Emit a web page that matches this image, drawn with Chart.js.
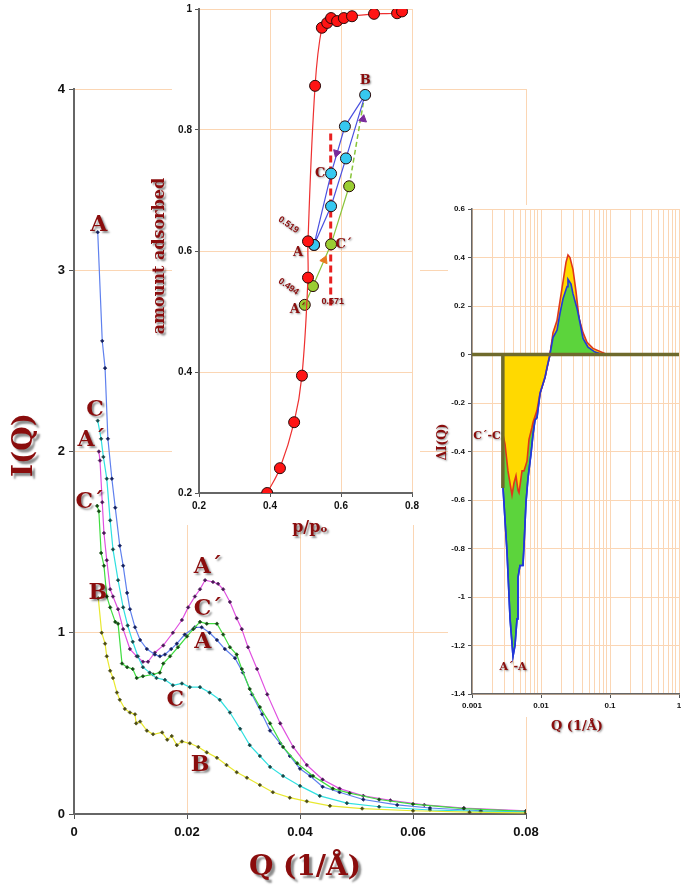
<!DOCTYPE html>
<html>
<head>
<meta charset="utf-8">
<script src="https://cdn.jsdelivr.net/npm/chart.js@4"></script>
<style>
  body { margin: 0; background: #fff; width: 685px; height: 896px; overflow: hidden; position: relative; }
  canvas { position: absolute; }
  #main { left: 0; top: 0; }
  #iso { left: 145px; top: 0; }
  #diff { left: 430px; top: 190px; }
</style>
</head>
<body>
<canvas id="main" width="685" height="896"></canvas>
<canvas id="iso" width="280" height="550"></canvas>
<canvas id="diff" width="255" height="550"></canvas>
<script>
// ---- main SAXS curves I(Q) ----
const qA = [0.0042, 0.0050, 0.0055, 0.0060, 0.0067, 0.0073, 0.0081, 0.0087, 0.0094, 0.0099, 0.0108, 0.0117, 0.0129, 0.0143, 0.0152, 0.0161, 0.0172, 0.0182, 0.0196, 0.0214, 0.0226, 0.0240, 0.0253, 0.0267, 0.0285, 0.0299, 0.0315, 0.0333, 0.0347, 0.0365, 0.0382, 0.0400, 0.0418, 0.0440, 0.0470, 0.0512, 0.0572, 0.0630, 0.0720, 0.0800];
const iA = [3.21, 2.61, 2.46, 2.07, 1.85, 1.69, 1.48, 1.37, 1.22, 1.13, 1.03, 0.96, 0.91, 0.88, 0.87, 0.88, 0.91, 0.94, 0.99, 1.03, 1.03, 1.00, 0.96, 0.91, 0.86, 0.78, 0.66, 0.55, 0.46, 0.39, 0.32, 0.25, 0.21, 0.15, 0.12, 0.08, 0.05, 0.033, 0.018, 0.012];

const qAp = [0.0044, 0.0046, 0.0050, 0.0053, 0.0058, 0.0064, 0.0069, 0.0078, 0.0087, 0.0099, 0.0111, 0.0122, 0.0131, 0.0143, 0.0158, 0.0175, 0.0191, 0.0202, 0.0214, 0.0223, 0.0232, 0.0246, 0.0255, 0.0264, 0.0276, 0.0288, 0.0297, 0.0308, 0.0324, 0.0342, 0.0365, 0.0388, 0.0412, 0.0440, 0.0470, 0.0512, 0.0560, 0.0620, 0.0690, 0.0800];
const iAp = [2.00, 1.95, 1.72, 1.55, 1.40, 1.24, 1.20, 1.13, 1.02, 0.91, 0.87, 0.84, 0.84, 0.89, 0.93, 1.00, 1.07, 1.14, 1.20, 1.24, 1.29, 1.28, 1.27, 1.24, 1.17, 1.08, 1.02, 0.92, 0.80, 0.66, 0.50, 0.37, 0.27, 0.19, 0.14, 0.10, 0.075, 0.05, 0.033, 0.017];

const qC = [0.0042, 0.0048, 0.0052, 0.0058, 0.0064, 0.0069, 0.0078, 0.0087, 0.0095, 0.0104, 0.0113, 0.0122, 0.0134, 0.0146, 0.0161, 0.0175, 0.0191, 0.0205, 0.0223, 0.0240, 0.0258, 0.0276, 0.0294, 0.0311, 0.0329, 0.0347, 0.0370, 0.0400, 0.0435, 0.0483, 0.0540, 0.0630, 0.0720, 0.0800];
const iC = [2.17, 2.07, 1.97, 1.85, 1.62, 1.46, 1.29, 1.14, 1.04, 0.95, 0.87, 0.81, 0.78, 0.75, 0.74, 0.71, 0.72, 0.70, 0.70, 0.67, 0.63, 0.56, 0.47, 0.38, 0.32, 0.26, 0.21, 0.155, 0.10, 0.06, 0.04, 0.022, 0.014, 0.010];

const qCp = [0.0041, 0.0044, 0.0048, 0.0053, 0.0058, 0.0064, 0.0073, 0.0078, 0.0085, 0.0094, 0.0104, 0.0111, 0.0122, 0.0140, 0.0152, 0.0158, 0.0170, 0.0184, 0.0200, 0.0211, 0.0223, 0.0235, 0.0253, 0.0264, 0.0276, 0.0288, 0.0297, 0.0311, 0.0329, 0.0347, 0.0370, 0.0395, 0.0423, 0.0458, 0.0488, 0.0540, 0.0600, 0.0690, 0.0800];
const iCp = [1.70, 1.67, 1.44, 1.37, 1.20, 1.14, 1.06, 1.05, 0.83, 0.81, 0.80, 0.75, 0.76, 0.77, 0.78, 0.83, 0.87, 0.92, 0.98, 1.02, 1.06, 1.05, 1.05, 0.99, 0.92, 0.88, 0.80, 0.69, 0.59, 0.50, 0.37, 0.28, 0.21, 0.14, 0.115, 0.08, 0.055, 0.03, 0.015];

const qB = [0.0043, 0.0049, 0.0055, 0.0058, 0.0064, 0.0069, 0.0076, 0.0081, 0.0090, 0.0099, 0.0108, 0.0110, 0.0117, 0.0129, 0.0140, 0.0156, 0.0165, 0.0173, 0.0182, 0.0191, 0.0205, 0.0220, 0.0235, 0.0253, 0.0270, 0.0288, 0.0306, 0.0329, 0.0352, 0.0382, 0.0412, 0.0453, 0.0510, 0.0600, 0.0700, 0.0800];
const iB = [1.19, 1.00, 0.94, 0.87, 0.79, 0.75, 0.67, 0.63, 0.58, 0.56, 0.55, 0.50, 0.51, 0.46, 0.44, 0.45, 0.41, 0.43, 0.38, 0.40, 0.39, 0.37, 0.34, 0.31, 0.27, 0.23, 0.20, 0.16, 0.12, 0.09, 0.07, 0.045, 0.03, 0.018, 0.010, 0.006];

const mainXTicks = ['0', '0.02', '0.04', '0.06', '0.08'];
const mainYTicks = ['0', '1', '2', '3', '4'];

// ---- inset: adsorption isotherm ----
const isoP = [0.392, 0.428, 0.468, 0.490, 0.507, 0.507, 0.527, 0.546, 0.561, 0.572, 0.589, 0.608, 0.631, 0.693, 0.758, 0.772];
const isoN = [0.200, 0.241, 0.317, 0.394, 0.556, 0.616, 0.873, 0.969, 0.977, 0.985, 0.980, 0.985, 0.988, 0.992, 0.993, 0.996];
const loopP = [0.524, 0.572, 0.614, 0.668, 0.611, 0.572, 0.524];
const loopN = [0.610, 0.674, 0.753, 0.858, 0.806, 0.728, 0.610];
const greenP = [0.498, 0.521, 0.572, 0.623];
const greenN = [0.511, 0.542, 0.611, 0.707];
const greenDashP = [0.623, 0.663];
const greenDashN = [0.707, 0.845];
const redDashP = [0.571, 0.571];
const redDashN = [0.510, 0.800];
const arrowP = [0.553, 0.588, 0.662];
const arrowN = [0.585, 0.762, 0.818];
const arrowRot = [23, 197, 10];
const arrowColor = ['#e87a20', '#7a2a9a', '#7a2a9a'];
const isoXTicks = ['0.2', '0.4', '0.6', '0.8'];
const isoYTicks = ['0.2', '0.4', '0.6', '0.8', '1'];

// ---- inset: difference curves ΔI(Q) ----
const qAA = [0.00281, 0.00322, 0.00356, 0.00393, 0.00420, 0.00449, 0.00464, 0.00496, 0.00548, 0.00567, 0.00606, 0.00648, 0.00716, 0.00766, 0.00819, 0.00875, 0.00968, 0.01143, 0.01222, 0.01349, 0.01493, 0.01706, 0.01885, 0.02084, 0.02383, 0.02461, 0.02722, 0.02910, 0.03326, 0.03676, 0.04064, 0.04802, 0.06067, 0.07925];
const dAA = [-0.546, -0.817, -1.09, -1.245, -1.20, -1.09, -0.92, -0.87, -0.87, -0.79, -0.61, -0.51, -0.41, -0.33, -0.27, -0.26, -0.16, -0.094, -0.053, 0, 0.07, 0.10, 0.17, 0.23, 0.28, 0.31, 0.29, 0.25, 0.19, 0.13, 0.066, 0.03, 0.01, 0];
const qCC = [0.00281, 0.00301, 0.00332, 0.00380, 0.00406, 0.00434, 0.00464, 0.00480, 0.00531, 0.00567, 0.00627, 0.00670, 0.00741, 0.00766, 0.00875, 0.00968, 0.01143, 0.01349, 0.01493, 0.01706, 0.01885, 0.02084, 0.02303, 0.02461, 0.02630, 0.02910, 0.03215, 0.03554, 0.04064, 0.04642, 0.05672, 0.09050];
const dCC = [-0.33, -0.37, -0.48, -0.58, -0.53, -0.50, -0.56, -0.57, -0.48, -0.48, -0.44, -0.35, -0.30, -0.28, -0.23, -0.16, -0.094, 0, 0.09, 0.14, 0.22, 0.30, 0.38, 0.41, 0.40, 0.35, 0.26, 0.15, 0.09, 0.05, 0.025, 0];
const baseQ = [0.0028, 0.0028, 0.001, 1];
const baseD = [-0.55, 0, 0, 0];
const diffXTicks = ['0.001', '0.01', '0.1', '1'];
const diffYTicks = ['-1.4', '-1.2', '-1', '-0.8', '-0.6', '-0.4', '-0.2', '0', '0.2', '0.4', '0.6'];

const SANS = 'Liberation Sans, Arial, sans-serif';
const SERIF = '"DejaVu Serif", "Liberation Serif", serif';
const DARKRED = '#8a0d0d';
const GRID = '#fbd6b4';

const pts = (xs, ys) => xs.map((x, i) => ({ x: x, y: ys[i] }));

// white panel behind an inset
const whiteBox = {
  id: 'whiteBox',
  beforeDraw(chart, args, o) {
    const c = chart.ctx;
    c.save();
    c.fillStyle = '#fff';
    c.fillRect(o.x, o.y, o.w, o.h);
    c.restore();
  }
};

// shadowed dark-red labels; x/y in data units, px/py in canvas pixels
const textMarks = {
  id: 'textMarks',
  afterDatasetsDraw(chart, args, o) {
    const c = chart.ctx;
    const xs = chart.scales.x, ys = chart.scales.y;
    o.items.forEach(t => {
      const px = t.px != null ? t.px : xs.getPixelForValue(t.x);
      const py = t.py != null ? t.py : ys.getPixelForValue(t.y);
      c.save();
      c.font = t.font;
      c.fillStyle = DARKRED;
      c.shadowColor = 'rgba(0,0,0,0.45)';
      c.shadowOffsetX = t.sh || 2;
      c.shadowOffsetY = t.sh || 2;
      c.shadowBlur = 2;
      c.textAlign = 'center';
      c.textBaseline = 'middle';
      c.translate(px, py);
      if (t.rot) c.rotate(t.rot * Math.PI / 180);
      c.fillText(t.text, 0, 0);
      c.restore();
    });
  }
};

function curve(xs, ys, line, mark) {
  return {
    data: pts(xs, ys), showLine: true, borderColor: line, borderWidth: 1.2,
    pointStyle: 'rectRot', pointRadius: 1.8, pointBackgroundColor: mark,
    pointBorderColor: mark, pointBorderWidth: 0.6
  };
}

// ---------- main chart ----------
new Chart(document.getElementById('main'), {
  type: 'scatter',
  data: {
    datasets: [
      curve(qB, iB, '#e8e830', '#4a4a12'),
      curve(qC, iC, '#30e0e0', '#134848'),
      curve(qCp, iCp, '#40dd40', '#124a12'),
      curve(qA, iA, '#5f80ee', '#14205e'),
      curve(qAp, iAp, '#e050e0', '#4a1656')
    ]
  },
  options: {
    responsive: false, animation: false,
    layout: { padding: { left: 34, right: 159, top: 89, bottom: 52 } },
    plugins: {
      legend: { display: false }, tooltip: { enabled: false },
      textMarks: {
        items: [
          { text: 'A', x: 0.0044, y: 3.25, font: 'bold 22px ' + SERIF },
          { text: 'C', x: 0.0037, y: 2.23, font: 'bold 22px ' + SERIF },
          { text: 'A´', x: 0.0031, y: 2.06, font: 'bold 22px ' + SERIF },
          { text: 'C´', x: 0.0028, y: 1.72, font: 'bold 22px ' + SERIF },
          { text: 'B', x: 0.0042, y: 1.22, font: 'bold 22px ' + SERIF },
          { text: 'A´', x: 0.0237, y: 1.36, font: 'bold 22px ' + SERIF },
          { text: 'C´', x: 0.0237, y: 1.13, font: 'bold 22px ' + SERIF },
          { text: 'A', x: 0.0228, y: 0.945, font: 'bold 22px ' + SERIF },
          { text: 'C', x: 0.0179, y: 0.63, font: 'bold 22px ' + SERIF },
          { text: 'B', x: 0.0223, y: 0.27, font: 'bold 22px ' + SERIF },
          { text: 'I(Q)', px: 25, py: 445, rot: -90, font: 'bold 28px ' + SERIF, sh: 3 },
          { text: 'Q (1/Å)', px: 305, py: 868, font: 'bold 28px ' + SERIF, sh: 3 }
        ]
      }
    },
    scales: {
      x: {
        type: 'linear', min: 0, max: 0.08,
        ticks: { stepSize: 0.02, color: '#111', padding: 6, font: { family: SANS, weight: 'bold', size: 13 }, callback: (v, i) => mainXTicks[i] },
        grid: { color: GRID, tickColor: '#555', tickLength: 5 },
        border: { color: '#666', width: 2 },
        afterFit: s => { s.height = 30; }
      },
      y: {
        min: 0, max: 4,
        ticks: { stepSize: 1, color: '#111', padding: 4, font: { family: SANS, weight: 'bold', size: 13 }, callback: (v, i) => mainYTicks[i] },
        grid: { color: GRID, tickColor: '#555', tickLength: 5 },
        border: { color: '#666', width: 2 },
        afterFit: s => { s.width = 40; }
      }
    }
  },
  plugins: [textMarks]
});

// ---------- isotherm inset ----------
function dots(xs, ys, fill, line) {
  return {
    data: pts(xs, ys), showLine: true, borderColor: line, borderWidth: 1.2, tension: 0,
    pointRadius: 5.5, pointBackgroundColor: fill, pointBorderColor: '#2a0a0a', pointBorderWidth: 1
  };
}

new Chart(document.getElementById('iso'), {
  type: 'scatter',
  data: {
    datasets: [
      {
        data: pts(arrowP, arrowN), showLine: false, pointStyle: 'triangle', pointRadius: 4.5,
        rotation: ctx => arrowRot[ctx.dataIndex], pointBackgroundColor: arrowColor, pointBorderColor: arrowColor
      },
      Object.assign(dots(isoP, isoN, '#ff1414', '#ee3030'), { tension: 0.4 }),
      dots(greenP, greenN, '#9acd32', '#88c43a'),
      dots(loopP, loopN, '#36c8f0', '#4a50e0'),
      { data: pts(greenDashP, greenDashN), showLine: true, borderColor: '#88c43a', borderWidth: 1.5, borderDash: [5, 3], pointRadius: 0 },
      { data: pts(redDashP, redDashN), showLine: true, borderColor: '#e82020', borderWidth: 3, borderDash: [7, 4], pointRadius: 0 }
    ]
  },
  options: {
    responsive: false, animation: false,
    layout: { padding: { left: 30, right: 13, top: 8, bottom: 37 } },
    plugins: {
      legend: { display: false }, tooltip: { enabled: false },
      whiteBox: { x: 27, y: 0, w: 248, h: 525 },
      textMarks: {
        items: [
          { text: 'A', x: 0.479, y: 0.597, font: 'bold 13px ' + SERIF, sh: 1 },
          { text: 'B', x: 0.668, y: 0.881, font: 'bold 13px ' + SERIF, sh: 1 },
          { text: 'C', x: 0.541, y: 0.728, font: 'bold 13px ' + SERIF, sh: 1 },
          { text: 'C´', x: 0.608, y: 0.61, font: 'bold 13px ' + SERIF, sh: 1 },
          { text: 'A´', x: 0.479, y: 0.503, font: 'bold 13px ' + SERIF, sh: 1 },
          { text: '0.519', x: 0.452, y: 0.643, rot: 35, font: 'bold 9px ' + SANS, sh: 1 },
          { text: '0.494', x: 0.452, y: 0.541, rot: 35, font: 'bold 9px ' + SANS, sh: 1 },
          { text: '0.571', x: 0.577, y: 0.516, font: 'bold 9px ' + SANS, sh: 1 },
          { text: 'amount adsorbed', px: 15, py: 256, rot: -90, font: 'bold 16px ' + SERIF, sh: 2 },
          { text: 'p/pₒ', px: 165, py: 528, font: 'bold 16px ' + SERIF, sh: 2 }
        ]
      }
    },
    scales: {
      x: {
        type: 'linear', min: 0.2, max: 0.8,
        ticks: { stepSize: 0.2, color: '#111', padding: 3, font: { family: SANS, weight: 'bold', size: 10 }, callback: (v, i) => isoXTicks[i] },
        grid: { color: GRID, tickColor: '#555', tickLength: 4 },
        border: { color: '#666', width: 2 },
        afterFit: s => { s.height = 20; }
      },
      y: {
        min: 0.2, max: 1,
        ticks: { stepSize: 0.2, color: '#111', padding: 3, font: { family: SANS, weight: 'bold', size: 10 }, callback: (v, i) => isoYTicks[i] },
        grid: { color: GRID, tickColor: '#555', tickLength: 4 },
        border: { color: '#666', width: 2 },
        afterFit: s => { s.width = 24; }
      }
    }
  },
  plugins: [whiteBox, textMarks]
});

// ---------- ΔI(Q) inset ----------
const logTicks = [];
[0.001, 0.01, 0.1].forEach(d => { for (let k = 1; k <= 9; k++) logTicks.push(k * d); });
logTicks.push(1);

new Chart(document.getElementById('diff'), {
  type: 'scatter',
  data: {
    datasets: [
      { data: pts(baseQ, baseD), showLine: true, borderColor: '#6f6a2c', borderWidth: 3.5, pointRadius: 0 },
      {
        data: pts(qAA, dAA), showLine: true, borderColor: '#2238d8', borderWidth: 1.6, pointRadius: 0,
        fill: { target: 'origin', above: '#5cd43c', below: 'rgba(0,0,0,0)' }
      },
      {
        data: pts(qCC, dCC), showLine: true, borderColor: '#e0361a', borderWidth: 1.6, pointRadius: 0,
        fill: { target: 'origin', above: '#ffd900', below: '#ffd900' }
      },
      {
        data: pts(qAA, dAA), showLine: true, borderColor: '#2238d8', borderWidth: 1.6, pointRadius: 0,
        fill: { target: 'origin', above: 'rgba(0,0,0,0)', below: '#5cd43c' }
      }
    ]
  },
  options: {
    responsive: false, animation: false,
    layout: { padding: { left: 16, right: 6, top: 19, bottom: 28 } },
    plugins: {
      legend: { display: false }, tooltip: { enabled: false },
      whiteBox: { x: 18, y: 15, w: 237, h: 512 },
      textMarks: {
        items: [
          { text: 'C´-C', px: 57, py: 246, font: 'bold 11px ' + SERIF, sh: 1 },
          { text: 'A´-A', px: 83, py: 477, font: 'bold 11px ' + SERIF, sh: 1 },
          { text: 'ΔI(Q)', px: 13, py: 252, rot: -90, font: 'bold 12px ' + SERIF, sh: 1 },
          { text: 'Q (1/Å)', px: 147, py: 537, font: 'bold 13px ' + SERIF, sh: 1 }
        ]
      }
    },
    scales: {
      x: {
        type: 'logarithmic', min: 0.001, max: 1,
        afterBuildTicks: s => { s.ticks = logTicks.map(v => ({ value: v })); },
        ticks: {
          autoSkip: false, maxRotation: 0, color: '#111', padding: 3,
          font: { family: SANS, weight: 'bold', size: 8 },
          callback: (v, i) => (i % 9 === 0 ? diffXTicks[i / 9] : '')
        },
        grid: { color: GRID, tickColor: ctx => (ctx.index % 9 === 0 ? '#555' : 'rgba(0,0,0,0)'), tickLength: 4 },
        border: { color: '#666', width: 1.5 },
        afterFit: s => { s.height = 18; }
      },
      y: {
        min: -1.4, max: 0.6,
        ticks: { stepSize: 0.2, color: '#111', padding: 3, font: { family: SANS, weight: 'bold', size: 8 }, callback: (v, i) => diffYTicks[i] },
        grid: { color: GRID, tickColor: '#555', tickLength: 4 },
        border: { color: '#666', width: 1.5 },
        afterFit: s => { s.width = 26; }
      }
    }
  },
  plugins: [whiteBox, textMarks]
});
</script>
</body>
</html>
